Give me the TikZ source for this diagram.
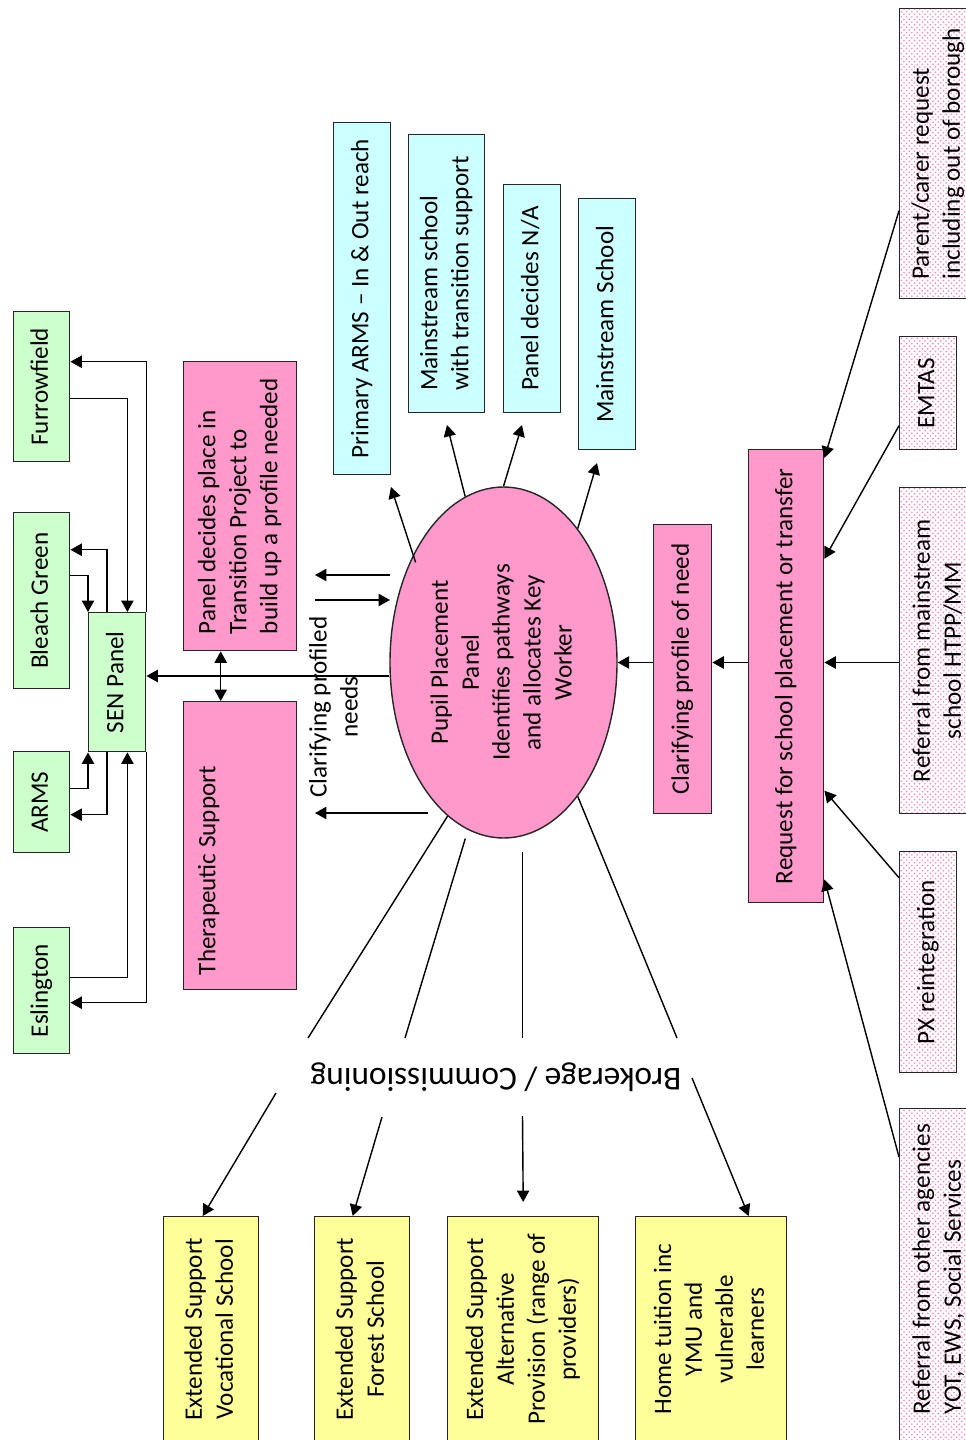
\documentclass[tikz,border=0pt]{standalone}
\usepackage{fontspec}
\setmainfont{Carlito}
\usepackage{graphicx}
\usepackage{tikz}
\usetikzlibrary{arrows.meta,shapes.geometric,patterns}

\definecolor{boxgreen}{HTML}{CCFFCC}
\definecolor{boxpink}{HTML}{FF99CC}
\definecolor{boxcyan}{HTML}{CCFFFF}
\definecolor{boxyellow}{HTML}{FFFF99}
\definecolor{dotpink}{HTML}{FF80C0}

\newcommand{\vtext}[2][c]{\rotatebox{90}{\begin{tabular}{@{}#1@{}}#2\end{tabular}}}

\tikzset{
  >={Triangle[length=6.5pt,width=7pt]},
  conn/.style={black, line width=0.8pt},
  box/.style={draw=black!85, line width=0.8pt, inner sep=0pt, anchor=north west},
  wh/.style 2 args={minimum width=#1*0.02cm, minimum height=#2*0.02cm},
  gbox/.style={box, fill=boxgreen},
  pbox/.style={box, fill=boxpink},
  cbox/.style={box, fill=boxcyan},
  ybox/.style={box, fill=boxyellow},
  dbox/.style={box, fill=white, pattern=crosshatch dots, pattern color=dotpink},
}

\begin{document}
\begin{tikzpicture}[x=0.02cm, y=-0.02cm, font=\fontsize{14.3}{17.6}\selectfont]
\path [use as bounding box, fill=white] (0,0) rectangle (965,1440);

\node [gbox, wh={56}{150}] (fur) at (13,311) {\vtext{Furrowfield}};
\node [gbox, wh={56}{176}] (bleach) at (13,512) {\vtext{Bleach Green}};
\node [gbox, wh={57}{139}] (sen) at (88,612) {\vtext{SEN Panel}};
\node [gbox, wh={56}{101}] (arms) at (13,751) {\vtext{ARMS}};
\node [gbox, wh={56}{126}] (esl) at (13,927) {\vtext{Eslington}};

\node [pbox, wh={113}{289}] (trans) at (183,361) {\vtext[l]{Panel decides place in\\ Transition Project to\\ build up a profile needed}};
\node [pbox, wh={113}{288}] (therapy) at (183,701) {\vtext[l]{Therapeutic Support\hspace*{1cm}\\ \mbox{}\\ \mbox{}}};

\node [cbox, wh={57}{352}] (prim) at (333,122) {\vtext{Primary ARMS -- In \& Out reach}};
\node [cbox, wh={76}{278}] (mwt) at (408,134) {\vtext[l]{Mainstream school\\ with transition support}};
\node [cbox, wh={57}{228}] (pna) at (503,184) {\vtext{Panel decides N/A}};
\node [cbox, wh={57}{251}] (msch) at (578,198) {\vtext{Mainstream School}};

\node [ellipse, draw=black!85, line width=0.8pt, fill=boxpink, inner sep=0pt,
  minimum width=227*0.02cm, minimum height=351*0.02cm] (ppp) at (503.5,662.5)
  {\vtext{Pupil Placement\\ Panel\\ Identifies pathways\\ and allocates Key\\ Worker}};
\node (cpn) at (336,707) {\vtext{Clarifying profiled\\ needs}};

\node [pbox, wh={58}{289}] (clar) at (653,524) {\vtext{Clarifying profile of need}};
\node [pbox, wh={75}{453}] (req) at (748,449) {\vtext{Request for school placement or transfer}};

\node [dbox, wh={77}{290}] (parent) at (899,8) {\vtext[l]{Parent/carer request\\ including out of borough}};
\node [dbox, wh={57}{113}] (emtas) at (899,336) {\vtext{EMTAS}};
\node [dbox, wh={79}{326}] (refm) at (899,487) {\vtext{Referral from mainstream\\ school HTPP/MM}};
\node [dbox, wh={57}{221}] (px) at (899,851) {\vtext{PX reintegration}};
\node [dbox, wh={79}{352}] (refo) at (899,1108) {\vtext[l]{\hspace*{0.62cm}Referral from other agencies\\ \hspace*{0.62cm}YOT, EWS, Social Services}};

\node [rotate=180, font=\fontsize{19}{23}\selectfont] (brok) at (496,1077) {Brokerage / Commissioning};

\node [ybox, wh={95}{225}] (voc) at (163,1216) {\vtext{Extended Support\\ Vocational School}};
\node [ybox, wh={95}{225}] (forest) at (314,1216) {\vtext{Extended Support\\ Forest School}};
\node [ybox, wh={151}{225}] (altprov) at (447,1216) {\vtext{Extended Support\\ Alternative\\ Provision (range of\\ providers)}};
\node [ybox, wh={151}{225}] (home) at (635,1216) {\vtext{Home tuition inc\\ YMU and\\ vulnerable\\ learners}};

\coordinate (c1a) at (390,575);
\coordinate (c1b) at (315,575);
\coordinate (c2a) at (315,600);
\coordinate (c2b) at (390,600);
\coordinate (c3a) at (428,813);
\coordinate (c3b) at (315,813);
\coordinate (t1) at (391,487);
\coordinate (t2) at (447,425);
\coordinate (t3) at (522,425);
\coordinate (t4) at (597,463);
\coordinate (bk1) at (308,1038);
\coordinate (bk2) at (405,1038);
\coordinate (bk3) at (522.5,1038);
\coordinate (bk4) at (677,1038);
\coordinate (bs1) at (276,1093);
\coordinate (bs2) at (382,1117);
\coordinate (bs3) at (522.5,1116);
\coordinate (bs4) at (692,1078);

\draw [conn, ->] (sen.north east) |- ([yshift=0.5cm]fur.east);
\draw [conn, ->] ([yshift=-0.24cm]fur.east) -| ([xshift=-0.38cm]sen.north east);
\draw [conn, ->] ([xshift=0.38cm]sen.north west) |- ([yshift=1.02cm]bleach.east);
\draw [conn, ->] ([yshift=0.5cm]bleach.east) -| (sen.north west);
\draw [conn, ->] ([yshift=0.27cm]arms.east) -| (sen.south west);
\draw [conn, ->] ([xshift=0.38cm]sen.south west) |- ([yshift=-0.25cm]arms.east);
\draw [conn, ->] ([yshift=0.26cm]esl.east) -| ([xshift=-0.38cm]sen.south east);
\draw [conn, ->] (sen.south east) |- ([yshift=-0.24cm]esl.east);

\draw [conn, <->] ([xshift=-0.39cm]trans.south) -- ([xshift=-0.39cm]therapy.north);
\draw [conn, ->] ([yshift=-0.27cm]ppp.west) -- ([yshift=-0.27cm]ppp.west -| sen.east);

\draw [conn, ->] (c1a) -- (c1b);
\draw [conn, ->] (c2a) -- (c2b);
\draw [conn, ->] (c3a) -- (c3b);

\draw [conn, ->, shorten <=-0.16cm] (ppp.130) -- (t1);
\draw [conn, ->] (ppp.103) -- (t2);
\draw [conn, ->] (ppp.north) -- (t3);
\draw [conn, ->] (ppp.61.2) -- (t4);

\draw [conn, ->] (clar.west |- ppp) -- (ppp.east);
\draw [conn, ->] (req.west |- ppp) -- (clar.east |- ppp);
\draw [conn, ->] (refm.west |- ppp) -- (req.east |- ppp);
\draw [conn, ->] ([yshift=-1.14cm]parent.west) -- ([yshift=-0.18cm]req.north east);
\draw [conn, ->] ([yshift=-0.65cm]emtas.west) -- ([yshift=2.35cm]req.east);
\draw [conn, ->] ([yshift=1.69cm]px.west) -- ([yshift=-2.29cm]req.east);
\draw [conn, ->] ([yshift=-0.98cm]refo.north west) -- ([yshift=0.48cm]req.south east);

\draw [conn] (ppp.-110.7) -- (bk1);
\draw [conn, shorten <=0.18cm] (ppp.-102) -- (bk2);
\draw [conn, shorten <=0.26cm] (ppp.south -| bk3) -- (bk3);
\draw [conn] (ppp.-61.7) -- (bk4);

\draw [conn, ->] (bs1) -- ([xshift=-0.17cm]voc.north);
\draw [conn, ->] (bs2) -- ([xshift=-0.19cm]forest.north);
\draw [conn, ->] (bs3) -- ([yshift=0.28cm]altprov.north);
\draw [conn, ->] (bs4) -- ([xshift=0.75cm]home.north);
\end{tikzpicture}
\end{document}
